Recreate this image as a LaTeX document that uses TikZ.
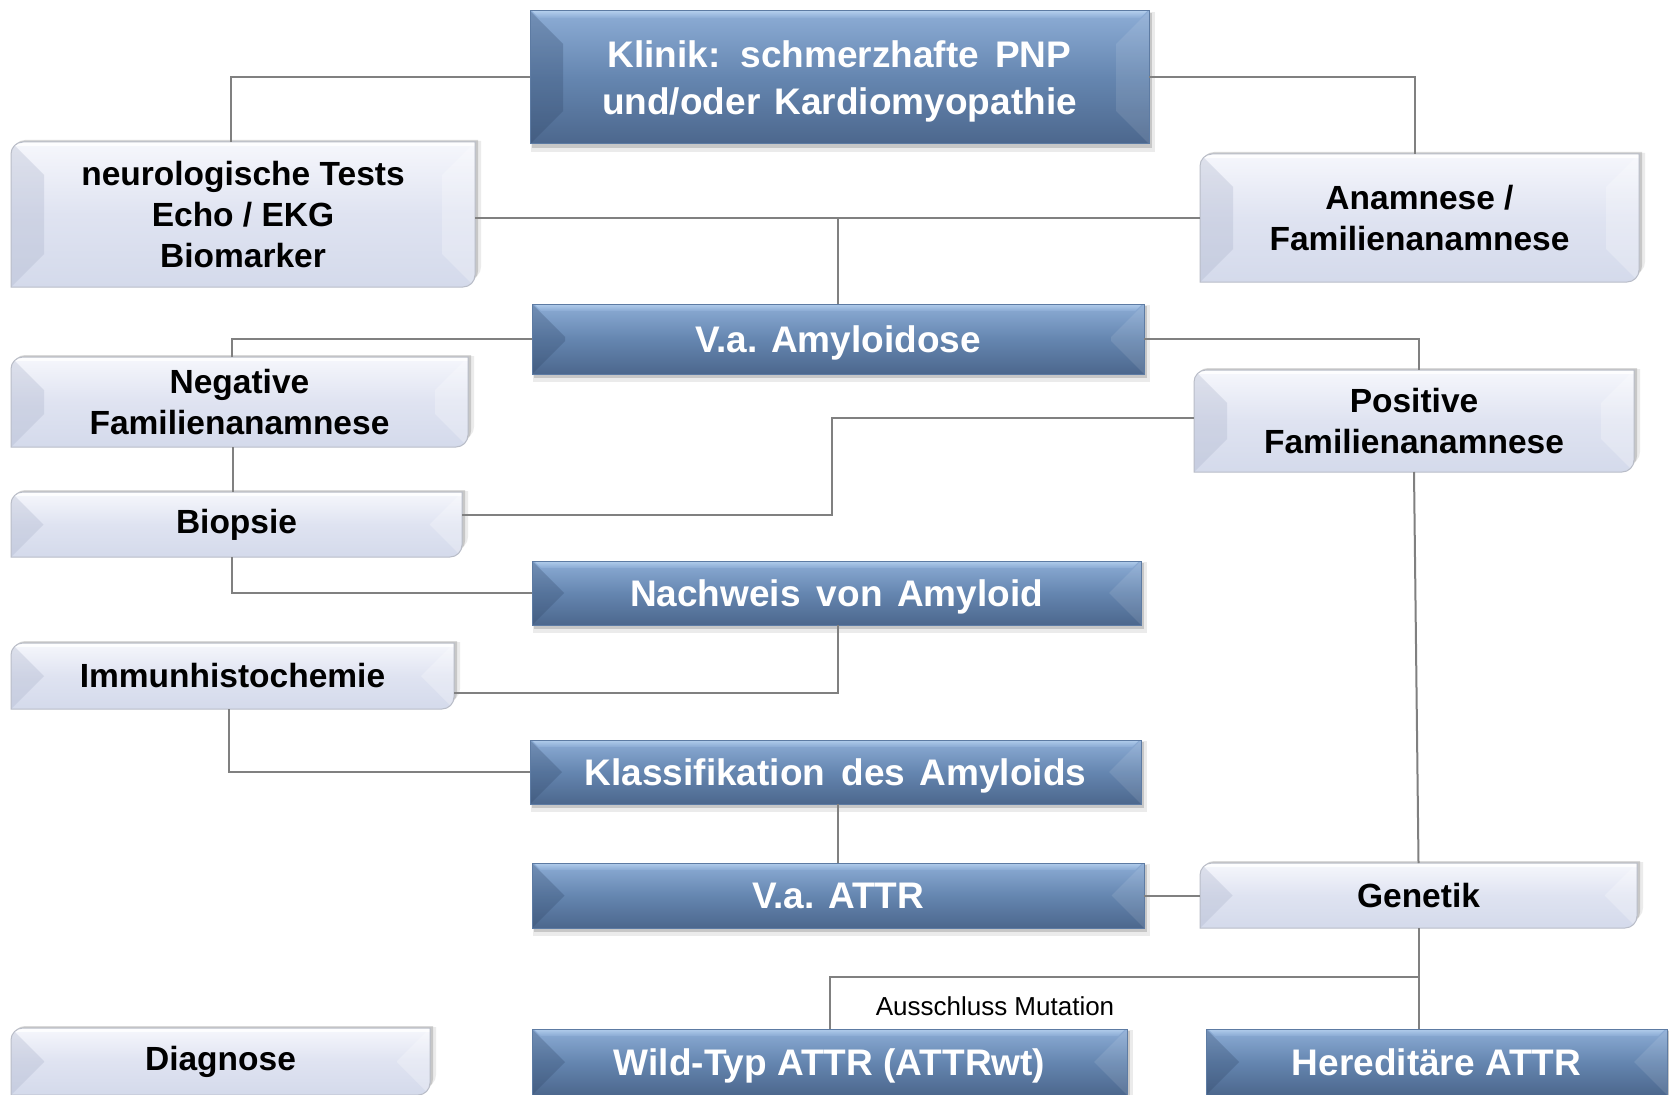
\documentclass[tikz,border=0pt]{standalone}
\usepackage{fontspec}
\setmainfont{Liberation Sans}
\definecolor{dA}{HTML}{8DADD6}
\definecolor{dB}{HTML}{6586B0}
\definecolor{dC}{HTML}{4C678D}
\definecolor{dH}{HTML}{C2DBF6}
\definecolor{dL}{HTML}{2F4566}
\definecolor{dE}{HTML}{5D7BA3}
\definecolor{lA}{HTML}{F6F7FC}
\definecolor{lB}{HTML}{DFE3F1}
\definecolor{lC}{HTML}{D4DAEB}
\definecolor{lL}{HTML}{A8B0C8}
\definecolor{lE}{HTML}{B9BDC8}
\definecolor{connc}{HTML}{808080}

\newcommand\DBox[6]{%
 \pgfmathsetmacro\bd{min(33,(#5-#3)/2)}%
 \fill[black,opacity=.08] (#2+1,-#3-1) rectangle (#4+6,-#5-8);
 \fill[black,opacity=.15] (#2+2,-#3-2) rectangle (#4+3,-#5-4);
 \shade[top color=dA, bottom color=dC, middle color=dB] (#2,-#3) rectangle (#4,-#5);
 \fill[dL,opacity=.28] (#2,-#3) -- (#2+\bd,-#3-\bd) -- (#2+\bd,-#5+\bd) -- (#2,-#5) -- cycle;
 \fill[white,opacity=.10] (#4,-#3) -- (#4-\bd,-#3-\bd) -- (#4-\bd,-#5+\bd) -- (#4,-#5) -- cycle;
 \shade[top color=dH, bottom color=dA, opacity=.7] (#2+2,-#3) -- (#4-2,-#3) -- (#4-9,-#3-7) -- (#2+9,-#3-7) -- cycle;
 \draw[dE, line width=1pt] (#2,-#3) rectangle (#4,-#5);
 \node[dtext, minimum width={#4-#2}, minimum height={#5-#3}] (#1) at ({(#2+#4)/2},{-(#3+#5)/2}) {#6};
}
\newcommand\LPath[4]{(#1,-#4) -- (#1,-#2-12) arc[start angle=180,end angle=90,radius=12] -- (#3,-#2) -- (#3,-#4+12) arc[start angle=0,end angle=-90,radius=12] -- cycle}
\newcommand\LBox[6]{%
 \pgfmathsetmacro\bd{min(33,(#5-#3)/2)}%
 \fill[black,opacity=.08] \LPath{#2+1}{#3+1}{#4+6}{#5+8};
 \fill[black,opacity=.15] \LPath{#2+2}{#3+2}{#4+3}{#5+4};
 \begin{scope}
  \clip \LPath{#2}{#3}{#4}{#5};
  \shade[top color=lA, bottom color=lC, middle color=lB] (#2,-#3) rectangle (#4,-#5);
  \fill[lL,opacity=.30] (#2,-#3) -- (#2+\bd,-#3-\bd) -- (#2+\bd,-#5+\bd) -- (#2,-#5) -- cycle;
  \fill[white,opacity=.25] (#4,-#3) -- (#4-\bd,-#3-\bd) -- (#4-\bd,-#5+\bd) -- (#4,-#5) -- cycle;
  \fill[white,opacity=.8] (#2,-#3) rectangle (#4,-#3-4);
 \end{scope}
 \draw[lE, line width=1pt] \LPath{#2}{#3}{#4}{#5};
 \node[ltext, minimum width={#4-#2}, minimum height={#5-#3}] (#1) at ({(#2+#4)/2},{-(#3+#5)/2}) {#6};
}

\begin{document}
\begin{tikzpicture}[x=1pt,y=1pt,
  dtext/.style={inner sep=0pt, outer sep=0pt, align=center, text=white,
    font=\fontsize{37}{47}\selectfont\bfseries, text depth=0pt},
  ltext/.style={inner sep=0pt, outer sep=0pt, align=center, text=black,
    font=\fontsize{33.5}{41}\selectfont\bfseries},
  conn/.style={draw=connc, line width=2pt},
  small/.style={font=\fontsize{26}{30}\selectfont, text=black, inner sep=0pt}]
\useasboundingbox (0,0) rectangle (1669,-1094);
\fill[white] (0,0) rectangle (1669,-1094);

\DBox{klinik}{530}{11}{1149}{144}{Klinik:\hspace{6pt} schmerzhafte\hspace{6pt} PNP\\und/oder\hspace{4pt} Kardiomyopathie}
\LBox{neuro}{11}{142}{475}{287}{neurologische Tests\\Echo / EKG\\Biomarker}
\LBox{anam}{1200}{154}{1639}{282}{Anamnese /\\Familienanamnese}
\DBox{amy}{532}{304}{1144}{374}{V.a. Amyloidose}
\LBox{neg}{11}{357}{468}{447}{Negative\\Familienanamnese}
\LBox{pos}{1194}{370}{1634}{472}{Positive\\Familienanamnese}
\LBox{bio}{11}{492}{462}{557}{Biopsie}
\DBox{nach}{532}{561}{1141}{625}{Nachweis\hspace{6pt} von\hspace{4pt} Amyloid}
\LBox{imm}{11}{643}{454}{709}{Immunhistochemie}
\DBox{klass}{530}{740}{1141}{804}{Klassifikation\hspace{6pt} des\hspace{4pt} Amyloids}
\DBox{vaattr}{532}{863}{1144}{928}{V.a. ATTR}
\LBox{gen}{1200}{863}{1637}{928}{Genetik}
\LBox{diag}{11}{1028}{430}{1095}{Diagnose}
\DBox{wild}{532}{1029}{1127}{1095}{Wild-Typ ATTR (ATTRwt)}
\DBox{her}{1206}{1029}{1667}{1095}{Hereditäre ATTR}

% connectors
\draw[conn] (klinik.west) -| ([xshift=-12pt]neuro.north);
\draw[conn] (klinik.east) -| ([xshift=-5pt]anam.north);
\draw[conn] (anam.west) -- (anam.west -| neuro.east);
\draw[conn] (amy.north) -- (amy.north |- anam.west);
\draw[conn] (amy.west) -| ([xshift=-8pt]neg.north);
\draw[conn] (amy.east) -| ([xshift=5pt]pos.north);
\draw[conn] ([xshift=-7pt]neg.south) -- ([xshift=-7pt]neg.south |- bio.north);
\coordinate (bend) at (832,-515);
\draw[conn] (bio.east |- bend) -- (bend) |- ([yshift=3pt]pos.west);
\draw[conn] ([xshift=-4.5pt]bio.south) |- (nach.west);
\coordinate (nbend) at (838,-693);
\draw[conn] (nach.south -| nbend) -- (nbend) -- (nbend -| imm.east);
\draw[conn] ([xshift=-3.5pt]imm.south) |- (klass.west);
\draw[conn] (vaattr.north) -- (vaattr.north |- klass.south);
\draw[conn] (vaattr.east) -- (gen.west);
\draw[conn] (pos.south) -- (gen.north);
\draw[conn] (gen.south) -- (gen.south |- her.north);
\coordinate (br) at (1419,-977);
\draw[conn] (br) -| (wild.north);
\node[small] (aus) at (995,-1006) {Ausschluss Mutation};
\end{tikzpicture}
\end{document}
